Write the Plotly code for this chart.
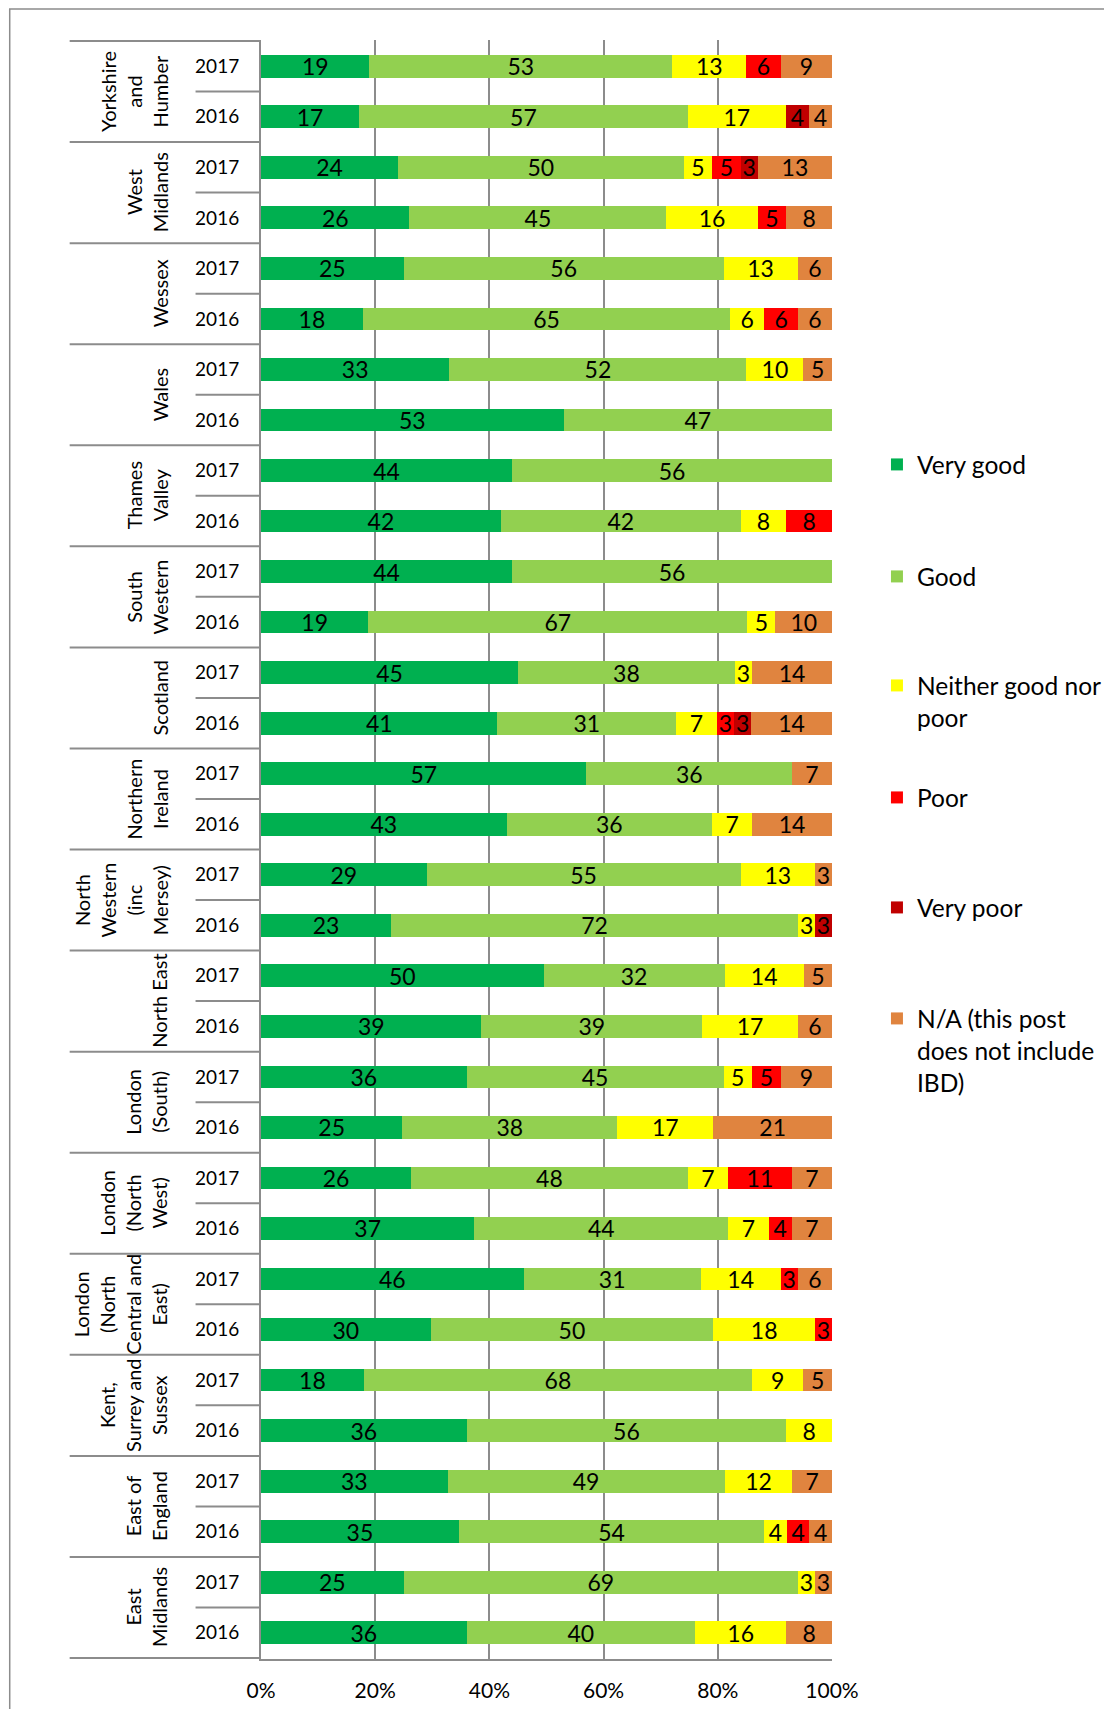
import plotly.graph_objects as go

FONT = "Lato"

regions = [
    "Yorkshire and Humber", "West Midlands", "Wessex", "Wales", "Thames Valley",
    "South Western", "Scotland", "Northern Ireland", "North Western (inc Mersey)",
    "North East", "London (South)", "London (North West)",
    "London (North Central and East)", "Kent, Surrey and Sussex", "East of England",
    "East Midlands",
]
region_labels = [
    "Yorkshire<br>and<br>Humber", "West<br>Midlands", "Wessex", "Wales", "Thames<br>Valley",
    "South<br>Western", "Scotland", "Northern<br>Ireland", "North<br>Western<br>(inc<br>Mersey)",
    "North East", "London<br>(South)", "London<br>(North<br>West)",
    "London<br>(North<br>Central and<br>East)", "Kent,<br>Surrey and<br>Sussex", "East of<br>England",
    "East<br>Midlands",
]
years = ["2017", "2016"]

series_names = ["Very good", "Good", "Neither good nor poor", "Poor", "Very poor",
                "N/A (this post does not include IBD)"]
legend_labels = ["Very good", "Good", "Neither good nor<br>poor", "Poor", "Very poor",
                 "N/A (this post<br>does not include<br>IBD)"]
colors = ["#00B050", "#92D050", "#FFFF00", "#FF0000", "#C00000", "#E0843F"]

# values per row: region order above, 2017 then 2016
very_good = [19, 17, 24, 26, 25, 18, 33, 53, 44, 42, 44, 19, 45, 41, 57, 43,
             29, 23, 50, 39, 36, 25, 26, 37, 46, 30, 18, 36, 33, 35, 25, 36]
good = [53, 57, 50, 45, 56, 65, 52, 47, 56, 42, 56, 67, 38, 31, 36, 36,
        55, 72, 32, 39, 45, 38, 48, 44, 31, 50, 68, 56, 49, 54, 69, 40]
neither = [13, 17, 5, 16, 13, 6, 10, 0, 0, 8, 0, 5, 3, 7, 0, 7,
           13, 3, 14, 17, 5, 17, 7, 7, 14, 18, 9, 8, 12, 4, 3, 16]
poor = [6, 0, 5, 5, 0, 6, 0, 0, 0, 8, 0, 0, 0, 3, 0, 0,
        0, 0, 0, 0, 5, 0, 11, 4, 3, 3, 0, 0, 0, 4, 0, 0]
very_poor = [0, 4, 3, 0, 0, 0, 0, 0, 0, 0, 0, 0, 0, 3, 0, 0,
             0, 3, 0, 0, 0, 0, 0, 0, 0, 0, 0, 0, 0, 0, 0, 0]
not_applicable = [9, 4, 13, 8, 6, 6, 5, 0, 0, 0, 0, 10, 14, 14, 7, 14,
                  3, 0, 5, 6, 9, 21, 7, 7, 6, 0, 5, 0, 7, 4, 3, 8]

x_tick_values = [0, 20, 40, 60, 80, 100]
x_tick_labels = ["0%", "20%", "40%", "60%", "80%", "100%"]

series = [very_good, good, neither, poor, very_poor, not_applicable]
row_keys = [f"{r} | {y}" for r in regions for y in years]
row_years = [y for r in regions for y in years]

fig = go.Figure()
for i, vals in enumerate(series):
    fig.add_trace(go.Bar(
        y=row_keys, x=vals, orientation="h",
        name=legend_labels[i],
        marker=dict(color=colors[i], line=dict(width=0)),
        text=[str(v) if v else "" for v in vals],
        textposition="inside", insidetextanchor="middle", textangle=0,
        constraintext="none",
        textfont=dict(family=FONT, size=23, color="black"),
        legend="legend" if i == 0 else f"legend{i + 1}",
        showlegend=True,
        hovertemplate=series_names[i] + ": %{text}<extra></extra>",
    ))

GRID = "#8c8c8c"
W, H = 1104, 1701
L, R, T, B = 252.5, 280, 32, 50
pw, ph = W - L - R, H - T - B

def px_x(px):
    return (px - L) / pw

def px_y(py):
    return (H - B - py) / ph

shapes = []
# region separators in label area
for k in range(len(regions) + 1):
    shapes.append(dict(type="line", xref="paper", yref="y", x0=px_x(61), x1=0,
                       y0=2 * k - 0.5, y1=2 * k - 0.5, line=dict(color=GRID, width=2)))
# year separators
for k in range(len(regions)):
    shapes.append(dict(type="line", xref="paper", yref="y", x0=px_x(187), x1=0,
                       y0=2 * k + 0.5, y1=2 * k + 0.5, line=dict(color=GRID, width=2)))
# outer chart border
shapes.append(dict(type="rect", xref="paper", yref="paper", x0=px_x(1), x1=px_x(W + 30),
                   y0=px_y(H + 30), y1=px_y(1), line=dict(color=GRID, width=1.5),
                   fillcolor="rgba(0,0,0,0)", layer="below"))

annotations = []
for k, lab in enumerate(region_labels):
    annotations.append(dict(
        text=lab, xref="paper", yref="y", x=px_x(165), y=2 * k + 0.5,
        xanchor="right", yanchor="middle", textangle=-90, showarrow=False,
        align="center", font=dict(family=FONT, size=20, color="black"),
    ))

legend_centers = [455, 567, 676, 788, 898, 1009]
legend_layouts = {}
for i, cy in enumerate(legend_centers):
    key = "legend" if i == 0 else f"legend{i + 1}"
    legend_layouts[key] = dict(
        x=px_x(869), y=px_y(cy - 21), xanchor="left", yanchor="top",
        font=dict(family=FONT, size=24.5, color="black"), valign="top",
        bgcolor="rgba(0,0,0,0)", borderwidth=0,
    )

fig.update_layout(
    width=W, height=H, showlegend=True,
    margin=dict(l=L, r=R, t=T, b=B, autoexpand=False),
    barmode="stack", barnorm="percent", bargap=0.55,
    paper_bgcolor="white", plot_bgcolor="white",
    font=dict(family=FONT, color="black", size=20),
    xaxis=dict(range=[0, 100], tickvals=x_tick_values, ticktext=x_tick_labels,
               showgrid=True, gridcolor=GRID, gridwidth=2,
               showline=True, linecolor=GRID, linewidth=2, zeroline=False,
               ticks="", ticklabelstandoff=12, automargin=False,
               tickfont=dict(family=FONT, size=21, color="black")),
    yaxis=dict(type="category", categoryorder="array", categoryarray=row_keys,
               autorange="reversed", tickvals=row_keys, ticktext=row_years,
               showline=True, linecolor=GRID, linewidth=2, showgrid=False,
               ticks="", ticklabelstandoff=16, automargin=False,
               tickfont=dict(family=FONT, size=19, color="black")),
    shapes=shapes, annotations=annotations,
    **legend_layouts,
)

fig.write_html("out.html")
